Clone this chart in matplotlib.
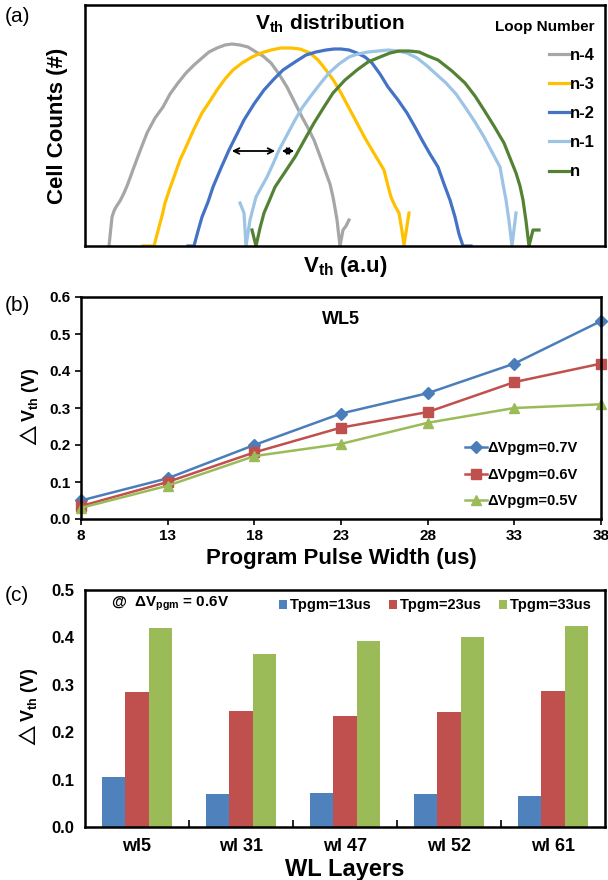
import matplotlib
matplotlib.use("Agg")
import matplotlib.pyplot as plt
import numpy as np

plt.rcParams['font.family'] = ['Liberation Sans', 'DejaVu Sans']
plt.rcParams['font.weight'] = 'bold'
plt.rcParams['axes.labelweight'] = 'bold'
plt.rcParams['mathtext.fontset'] = 'custom'
plt.rcParams['mathtext.rm'] = 'Liberation Sans:bold'
plt.rcParams['mathtext.it'] = 'Liberation Sans:bold'
plt.rcParams['mathtext.bf'] = 'Liberation Sans:bold'
plt.rcParams['mathtext.default'] = 'bf'
plt.rcParams['mathtext.fallback'] = 'stixsans'

# ---- (a) Vth distribution (a.u.) ----
loop_labels = ["n-4", "n-3", "n-2", "n-1", "n"]
loop_colors = ["#A6A6A6", "#FFC000", "#4472C4", "#9DC3E6", "#548235"]

x_n4 = [109, 112, 114, 116, 120, 124, 127, 130, 134, 140, 147, 155, 163, 170, 178, 186, 194, 202, 209, 217, 225, 232, 240, 248, 256, 263, 271, 279, 287, 294, 302, 308, 314, 320, 326, 330, 333, 335, 337, 340, 343, 346, 349]
y_n4 = [0, 29, 35, 39, 45, 53, 60, 68, 79, 95, 113, 128, 139, 152, 163, 173, 181, 188, 194, 198, 201, 202, 201, 199, 194, 190, 183, 172, 159, 145, 129, 118, 106, 90, 73, 62, 49, 38, 26, 0, 16, 20, 26]

x_n3 = [143, 154, 159, 162, 165, 170, 174, 180, 186, 194, 202, 210, 217, 225, 233, 242, 252, 261, 271, 281, 291, 300, 310, 318, 326, 334, 341, 349, 357, 365, 372, 378, 384, 388, 391, 395, 399, 402, 404, 407, 409]
y_n3 = [0, 0, 19, 30, 43, 58, 69, 86, 99, 117, 133, 145, 156, 167, 176, 183, 189, 193, 196, 198, 198, 197, 193, 186, 176, 165, 153, 138, 123, 108, 96, 86, 76, 60, 49, 40, 33, 15, 1, 20, 33]

x_n2 = [188, 194, 198, 202, 208, 213, 221, 229, 237, 244, 254, 264, 274, 283, 295, 306, 316, 326, 334, 341, 349, 357, 365, 372, 380, 388, 398, 407, 415, 422, 430, 438, 444, 450, 455, 459, 463, 471]
y_n2 = [0, 0, 15, 29, 44, 59, 78, 96, 112, 126, 142, 156, 167, 176, 184, 191, 194, 196, 197, 197, 196, 193, 189, 183, 172, 159, 146, 133, 119, 106, 92, 79, 62, 46, 29, 12, 0, 0]

x_n1 = [240, 244, 246, 250, 256, 262, 267, 273, 279, 287, 295, 302, 310, 320, 329, 339, 349, 358, 368, 378, 388, 398, 407, 417, 426, 436, 446, 456, 465, 475, 484, 492, 500, 503, 506, 509, 512, 516]
y_n1 = [43, 33, 0, 26, 49, 60, 69, 82, 96, 111, 126, 138, 149, 162, 173, 182, 189, 192, 194, 195, 196, 195, 193, 188, 181, 172, 163, 152, 139, 124, 109, 94, 79, 62, 46, 25, 0, 33]

x_n = [252, 256, 260, 264, 270, 275, 285, 295, 305, 314, 324, 333, 345, 357, 368, 380, 390, 399, 409, 419, 428, 438, 452, 465, 475, 484, 494, 504, 510, 516, 520, 523, 526, 529, 533, 539]
y_n = [16, 0, 18, 33, 47, 59, 74, 89, 107, 123, 139, 153, 166, 176, 184, 189, 193, 195, 195, 194, 190, 186, 175, 163, 150, 136, 120, 103, 88, 73, 60, 46, 25, 0, 16, 16]

curves_x = [x_n4, x_n3, x_n2, x_n1, x_n]
curves_y = [y_n4, y_n3, y_n2, y_n1, y_n]

# ---- (b) dVth vs program pulse width at WL5 ----
pulse_width = [8, 13, 18, 23, 28, 33, 38]
dv_07 = [0.05, 0.11, 0.20, 0.285, 0.34, 0.42, 0.535]
dv_06 = [0.035, 0.10, 0.18, 0.247, 0.289, 0.37, 0.42]
dv_05 = [0.03, 0.09, 0.17, 0.203, 0.26, 0.30, 0.31]

# ---- (c) dVth per WL layer ----
wl_layers = ["wl5", "wl 31", "wl 47", "wl 52", "wl 61"]
t13 = [0.105, 0.070, 0.072, 0.069, 0.065]
t23 = [0.284, 0.245, 0.235, 0.242, 0.287]
t33 = [0.420, 0.364, 0.392, 0.400, 0.425]

W, H = 608, 880
fig = plt.figure(figsize=(W / 100, H / 100), dpi=100)


def px_axes(left, top, right, bottom):
    return fig.add_axes([left / W, 1 - bottom / H, (right - left) / W, (bottom - top) / H])


dvth_label = r"$\triangle$V$_{th}$ (V)"

# ================= (a) =================
ax1 = px_axes(85, 5, 605, 246)
for xs, ys, c, lab in zip(curves_x, curves_y, loop_colors, loop_labels):
    ax1.plot(xs, ys, color=c, lw=2.3, label=lab)
ax1.set_xlim(85, 605)
ax1.set_ylim(0, 241)
ax1.set_xticks([])
ax1.set_yticks([])
for s in ax1.spines.values():
    s.set_linewidth(1.8)
ax1.annotate("", xy=(229, 95), xytext=(278, 95),
             arrowprops=dict(arrowstyle="<->", color="black", lw=1.3))
ax1.annotate("", xy=(279, 95), xytext=(297, 95),
             arrowprops=dict(arrowstyle="<->", color="black", lw=1.3))
ax1.text(0.47, 0.92, "V$_{th}$ distribution", transform=ax1.transAxes,
         ha="center", va="center", fontsize=15)
ax1.legend(loc="upper right", bbox_to_anchor=(1.005, 0.995), frameon=False,
           title="Loop Number", title_fontproperties={"weight": "bold", "size": 11},
           fontsize=12, handlelength=1.2, handletextpad=0.0,
           labelspacing=0.85, alignment="right", borderpad=0.3)
ax1.set_ylabel("Cell Counts (#)", fontsize=16, labelpad=12)
ax1.set_xlabel("V$_{th}$ (a.u)", fontsize=16, labelpad=6)
fig.text(5 / W, 1 - 17 / H, "(a)", fontsize=15, fontweight="normal", va="center")

# ================= (b) =================
ax2 = px_axes(81, 297, 601, 519)
ax2.plot(pulse_width, dv_07, color="#4A7EBB", marker="D", ms=6, lw=1.8,
         label="\u0394Vpgm=0.7V", clip_on=False)
ax2.plot(pulse_width, dv_06, color="#C0504D", marker="s", ms=7, lw=1.8,
         label="\u0394Vpgm=0.6V", clip_on=False)
ax2.plot(pulse_width, dv_05, color="#9BBB59", marker="^", ms=7, lw=1.8,
         label="\u0394Vpgm=0.5V", clip_on=False)
ax2.set_xlim(8, 38)
ax2.set_ylim(0, 0.6)
ax2.set_xticks(pulse_width)
ax2.set_yticks(np.arange(0, 0.61, 0.1))
ax2.set_yticklabels([f"{v:.1f}" for v in np.arange(0, 0.61, 0.1)])
ax2.tick_params(labelsize=11, width=1.2, length=4)
for s in ax2.spines.values():
    s.set_linewidth(1.8)
ax2.text(0.5, 0.9, "WL5", transform=ax2.transAxes, ha="center", va="center", fontsize=13)
ax2.legend(loc="lower right", bbox_to_anchor=(0.98, -0.01), frameon=False, fontsize=10.5,
           handlelength=1.5, handletextpad=0.0, labelspacing=0.85)
ax2.set_xlabel("Program Pulse Width (us)", fontsize=16, labelpad=3)
ax2.set_ylabel(dvth_label, fontsize=13, labelpad=6)
fig.text(5 / W, 1 - 305 / H, "(b)", fontsize=15, fontweight="normal", va="center")

# ================= (c) =================
ax3 = px_axes(85, 590, 605, 827)
pos = np.arange(len(wl_layers))
bw = 0.224
ax3.bar(pos - bw, t13, bw, color="#4F81BD", label="Tpgm=13us")
ax3.bar(pos, t23, bw, color="#C0504D", label="Tpgm=23us")
ax3.bar(pos + bw, t33, bw, color="#9BBB59", label="Tpgm=33us")
ax3.set_xlim(-0.5, len(wl_layers) - 0.5)
ax3.set_ylim(0, 0.5)
ax3.set_xticks(pos)
ax3.set_xticklabels(wl_layers)
ax3.set_xticks(pos[:-1] + 0.5, minor=True)
ax3.tick_params(axis="x", which="major", length=0, labelsize=13, pad=8)
ax3.tick_params(axis="x", which="minor", direction="in", length=5, width=1.2)
ax3.set_yticks(np.arange(0, 0.51, 0.1))
ax3.set_yticklabels([f"{v:.1f}" for v in np.arange(0, 0.51, 0.1)])
ax3.tick_params(axis="y", labelsize=12, length=0, pad=8)
for s in ax3.spines.values():
    s.set_linewidth(1.8)
ax3.legend(loc="upper right", bbox_to_anchor=(1.0, 1.02), ncol=3, frameon=False,
           fontsize=10.5, handlelength=0.55, handleheight=0.55, handletextpad=0.2,
           columnspacing=1.2)
ax3.text(0.05, 0.94, "@  \u0394V$_{pgm}$ = 0.6V", transform=ax3.transAxes,
         ha="left", va="center", fontsize=11)
ax3.set_xlabel("WL Layers", fontsize=17, labelpad=2)
ax3.set_ylabel(dvth_label, fontsize=13, labelpad=8)
fig.text(5 / W, 1 - 595 / H, "(c)", fontsize=15, fontweight="normal", va="center")

fig.savefig("out.png", dpi=100)
